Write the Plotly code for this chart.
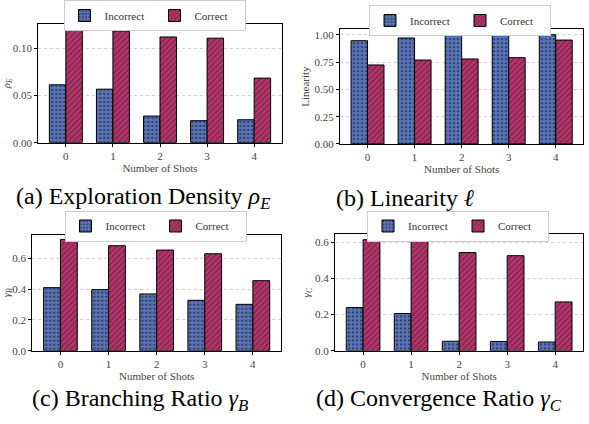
import plotly.graph_objects as go

shots = [0, 1, 2, 3, 4]
tick_labels = ["0", "1", "2", "3", "4"]

density_incorrect = [0.0613, 0.0567, 0.0282, 0.0233, 0.0243]
density_correct = [0.1194, 0.1184, 0.1120, 0.1107, 0.0684]

linearity_incorrect = [0.945, 0.970, 1.000, 1.000, 1.000]
linearity_correct = [0.723, 0.768, 0.778, 0.790, 0.951]

branching_incorrect = [0.409, 0.396, 0.368, 0.327, 0.301]
branching_correct = [0.721, 0.680, 0.652, 0.628, 0.454]

convergence_incorrect = [0.239, 0.206, 0.053, 0.052, 0.049]
convergence_correct = [0.613, 0.608, 0.542, 0.525, 0.270]

H = 424.0
W = 589.0

panels = [
    dict(inc=density_incorrect, cor=density_correct, ytitle="<i>ρ</i><sub><i>E</i></sub>",
         yrange=[0, 0.1258], ytick=[0, 0.05, 0.10], yfmt=".2f",
         xdom=[38.3 / W, 281.7 / W], ydom=[1 - 142 / H, 1 - 23 / H], leg=(154.5 / W, 1 - 15 / H),
         cap="(a) Exploration Density <i>ρ</i><sub><i>E</i></sub>", cap_xy=(143 / W, 1 - 197 / H)),
    dict(inc=linearity_incorrect, cor=linearity_correct, ytitle="Linearity",
         yrange=[0, 1.05], ytick=[0, 0.25, 0.5, 0.75, 1.0], yfmt=".2f",
         xdom=[340 / W, 583.3 / W], ydom=[1 - 143.3 / H, 1 - 28.3 / H], leg=(460 / W, 1 - 20.5 / H),
         cap="(b) Linearity <i>ℓ</i>", cap_xy=(405 / W, 1 - 197 / H)),
    dict(inc=branching_incorrect, cor=branching_correct, ytitle="<i>γ</i><sub><i>B</i></sub>",
         yrange=[0, 0.751], ytick=[0, 0.2, 0.4, 0.6], yfmt=".1f",
         xdom=[32.3 / W, 281 / W], ydom=[1 - 350.7 / H, 1 - 234.3 / H], leg=(155.5 / W, 1 - 226 / H),
         cap="(c) Branching Ratio <i>γ</i><sub><i>B</i></sub>", cap_xy=(140 / W, 1 - 400 / H)),
    dict(inc=convergence_incorrect, cor=convergence_correct, ytitle="<i>γ</i><sub><i>C</i></sub>",
         yrange=[0, 0.642], ytick=[0, 0.2, 0.4, 0.6], yfmt=".1f",
         xdom=[335 / W, 583.3 / W], ydom=[1 - 350.7 / H, 1 - 234 / H], leg=(458 / W, 1 - 226 / H),
         cap="(d) Convergence Ratio <i>γ</i><sub><i>C</i></sub>", cap_xy=(439 / W, 1 - 400 / H)),
]

BLUE = "#5A76BC"
RED = "#B8336A"
FONT = "Liberation Serif, Times New Roman, serif"

fig = go.Figure()
layout = dict(
    width=589, height=424, margin=dict(l=0, r=0, t=0, b=0),
    paper_bgcolor="white", plot_bgcolor="white",
    font=dict(family=FONT, size=11, color="#333"),
    annotations=[],
)

for i, p in enumerate(panels):
    n = "" if i == 0 else str(i + 1)
    xa, ya = "x" + n, "y" + n
    lg = "legend" + n
    fig.add_trace(go.Bar(
        x=shots, y=p["inc"], name="Incorrect", xaxis=xa, yaxis=ya, legend=lg,
        width=0.35, offset=-0.35,
        marker=dict(color=BLUE, line=dict(color="black", width=1),
                    pattern=dict(shape=".", fillmode="overlay", fgcolor="#111",
                                 bgcolor=BLUE, size=4, solidity=0.35)),
    ))
    fig.add_trace(go.Bar(
        x=shots, y=p["cor"], name="Correct", xaxis=xa, yaxis=ya, legend=lg,
        width=0.35, offset=0,
        marker=dict(color=RED, line=dict(color="black", width=1),
                    pattern=dict(shape="/", fillmode="overlay", fgcolor="#222",
                                 bgcolor=RED, size=4, solidity=0.3)),
    ))
    layout["xaxis" + n] = dict(
        domain=p["xdom"], anchor=ya, range=[-0.585, 4.585], automargin=False,
        tickvals=shots, ticktext=tick_labels, showgrid=False,
        showline=True, linecolor="black", linewidth=1, mirror=True,
        ticks="outside", ticklen=3, tickcolor="black",
        tickfont=dict(family=FONT, size=11, color="#444"),
        title=dict(text="Number of Shots", font=dict(family=FONT, size=11, color="#444"), standoff=0),
        zeroline=False,
    )
    layout["yaxis" + n] = dict(
        domain=p["ydom"], anchor=xa, range=p["yrange"], automargin=False,
        tickvals=p["ytick"], tickformat=p["yfmt"],
        showgrid=True, gridcolor="#d0d0d0", griddash="dot", gridwidth=1,
        showline=True, linecolor="black", linewidth=1, mirror=True,
        ticks="outside", ticklen=3, tickcolor="black",
        tickfont=dict(family=FONT, size=11, color="#444"),
        title=dict(text=p["ytitle"], font=dict(family=FONT, size=11, color="#444"), standoff=2),
        zeroline=False,
    )
    layout[lg] = dict(
        x=p["leg"][0], y=p["leg"][1], xanchor="center", yanchor="middle",
        orientation="h", bgcolor="white", bordercolor="#cccccc", borderwidth=1,
        font=dict(family=FONT, size=11, color="#333"),
        itemwidth=30, entrywidth=45, entrywidthmode="pixels",
    )
    layout["annotations"].append(dict(
        text=p["cap"], x=p["cap_xy"][0], y=p["cap_xy"][1], xref="paper", yref="paper",
        xanchor="center", yanchor="middle", showarrow=False,
        font=dict(family=FONT, size=24, color="black"),
    ))

fig.update_layout(**layout)
fig.write_html("out.html", config={"displayModeBar": False},
               post_script="document.body.style.margin='0px';")
